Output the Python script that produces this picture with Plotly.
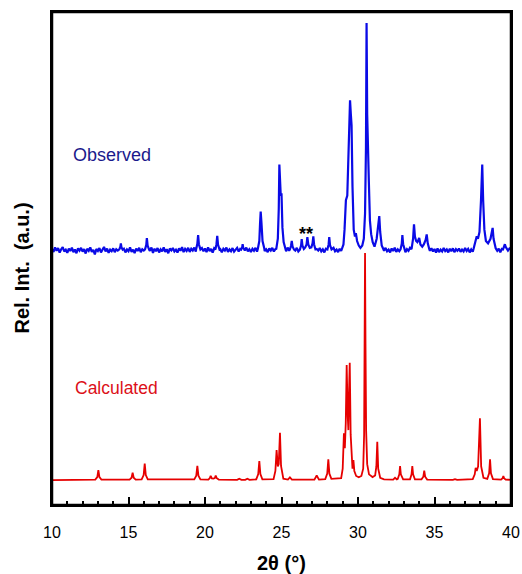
import numpy as np
import plotly.graph_objects as go

# ---------------- data ----------------
# Calculated pattern (relative intensity, max = 100)
calc_x = [10.00, 12.83, 12.96, 13.03, 13.10, 13.23,
          15.07, 15.20, 15.27, 15.34, 15.47,
          15.86, 15.99, 16.06, 16.13, 16.26,
          19.30, 19.43, 19.50, 19.57, 19.70,
          20.22, 20.31, 20.37, 20.45, 20.55, 20.64, 20.70, 20.77, 20.90,
          22.10, 22.24, 22.38, 22.63, 22.77, 22.91,
          23.35, 23.48, 23.55, 23.62, 23.75,
          24.48, 24.60, 24.68, 24.76, 24.82, 24.90, 24.97, 25.12,
          25.42, 25.55, 25.68,
          27.15, 27.30, 27.45,
          27.86, 27.99, 28.06, 28.13, 28.26,
          28.90, 29.00, 29.08, 29.14, 29.20, 29.26, 29.33, 29.37, 29.42, 29.46,
          29.52, 29.58, 29.64, 29.70, 29.76, 29.88, 30.05, 30.22, 30.34, 30.40,
          30.44, 30.46, 30.49, 30.53, 30.60, 30.72, 30.95, 31.12, 31.20, 31.26,
          31.32, 31.45, 31.70,
          32.30, 32.42, 32.54, 32.60, 32.70, 32.75, 32.80, 32.95,
          33.40, 33.50, 33.55, 33.60, 33.72,
          34.15, 34.27, 34.33, 34.39, 34.52,
          36.20, 36.34, 36.48,
          37.50, 37.63, 37.69, 37.76, 37.85, 37.97, 38.05, 38.20,
          38.45, 38.57, 38.63, 38.69, 38.82,
          39.35, 39.45, 39.50, 39.55, 39.65, 40.00]
calc_y = [0.0, 0.2, 1.3, 4.4, 1.3, 0.2,
          0.2, 1.0, 3.2, 1.0, 0.2,
          0.3, 2.2, 7.3, 2.2, 0.3,
          0.3, 1.9, 6.2, 1.9, 0.3,
          0.2, 0.8, 1.8, 0.7, 0.6, 0.9, 2.0, 0.8, 0.2,
          0.1, 0.6, 0.1, 0.1, 0.6, 0.1,
          0.3, 2.6, 8.4, 2.6, 0.3,
          0.4, 4.0, 13.2, 6.0, 7.0, 20.8, 6.2, 0.6,
          0.2, 1.2, 0.2,
          0.2, 2.0, 0.2,
          0.4, 2.8, 9.1, 2.8, 0.5,
          0.8, 5.0, 20.6, 14.0, 25.0, 50.7, 28.0, 22.0, 40.0, 51.7,
          20.0, 8.0, 5.0, 8.8, 4.0, 1.8, 1.2, 1.8, 5.0, 20.0,
          60.0, 100.0, 60.0, 22.0, 7.0, 2.5, 1.3, 2.0, 6.0, 16.9,
          5.0, 1.0, 0.3,
          0.2, 1.0, 0.3, 0.5, 2.5, 6.2, 2.5, 0.3,
          0.3, 2.5, 6.2, 2.5, 0.3,
          0.3, 1.5, 4.1, 1.5, 0.2,
          0.05, 0.4, 0.05,
          0.4, 2.5, 5.4, 4.0, 6.0, 27.2, 6.0, 1.0,
          0.5, 3.0, 9.1, 3.0, 0.4,
          0.2, 0.8, 1.8, 0.8, 0.2, 0.1]

# Observed pattern: baseline noise (every 0.1 deg from 10 to 40)
obs_noise = [
    0.5, -0.8, 1.2, -0.3, 0.9, -1.1, 0.4, 1.3, -0.6, 0.2,
    -1.2, 0.7, -0.4, 1.1, -0.9, 0.3, -1.4, 0.8, -0.2, 1.0,
    -0.7, 0.4, -1.5, 0.6, -0.3, 1.2, -0.8, 0.1, -1.9, 0.5,
    -0.4, 0.9, -1.0, 0.3, 1.4, -0.6, 0.7, -1.2, 0.2, -0.5,
    0.8, -0.9, 0.4, -0.2, 1.1, 1.0, -0.7, 0.6, -1.0, 0.3,
    -0.5, 1.2, -0.8, 0.2, -1.3, 0.7, -0.4, 1.0, -0.9, 0.4,
    -0.2, 0.8, 1.0, 0.5, -0.3, 1.1, -1.2, 0.6, -0.5, 0.9,
    -1.0, 0.3, -0.6, 1.2, -0.8, 0.4, -1.4, 0.7, -0.1, 0.9,
    -0.6, 0.2, -1.1, 0.8, -0.3, 1.3, -0.9, 0.5, -0.4, 1.0,
    -0.8, 0.6, -0.2, 1.1, -0.7, 0.4, -1.0, 0.3, 0.9, -0.5,
    0.7, -0.9, 1.2, -0.4, 0.5, -1.1, 0.8, -0.3, 1.0, -0.6,
    0.4, -1.0, 0.6, -0.2, 1.1, -0.8, 0.3, -0.5, 0.9, -0.7,
    0.2, 1.0, -0.6, 0.5, -0.9, 0.7, -0.2, 1.1, -0.5, 0.4,
    -0.8, 0.6, -0.3, 1.0, -0.7, 0.2, -1.0, 0.5, 0.9, -0.4,
    0.3, -0.9, 0.7, -0.2, 1.0, -0.6, 0.4, -0.8, 0.5, 0.9,
    -0.7, 0.3, 0.8, -0.5, 1.1, -0.3, 0.6, -0.9, 0.4, -0.2,
    1.0, -0.6, 0.5, -1.1, 0.7, -0.2, 0.9, -0.7, 0.3, 0.8,
    -0.4, 1.0, -0.8, 0.5, -0.2, 0.9, -0.6, 0.3, -1.0, 0.6,
    -0.3, 0.8, -0.7, 0.4, 1.0, -0.5, 0.2, -0.9, 0.6, -0.4,
    0.9, -0.3, 0.5, -0.8, 0.7, -0.5, 1.0, -0.6, 0.3, -1.2,
    0.4, -1.4, 0.6, -0.9, 0.3, -0.4, 0.8, -0.6, 0.5, -0.7,
    0.9, -0.4, 0.6, -1.0, 0.3, -0.6, 0.8, -0.3, 1.0, -0.5,
    0.2, -1.0, 0.7, -0.4, 1.1, -0.8, 0.3, -0.5, 0.9, -0.2,
    0.6, -0.9, 0.4, -0.3, 1.0, -0.7, 0.5, -0.6, 0.8, -0.4,
    0.3, -0.8, 0.9, -0.5, 0.6, -1.0, 0.4, -0.3, 0.8, -0.6,
    0.5, -1.1, 0.7, -0.9, 0.2, -0.6, 0.9, -0.4, 0.3, -1.0,
    0.6, -0.5, 0.8, -0.9, 0.4, -0.3, 0.7, -0.8, 0.2, -0.6,
    0.9, -0.4, 0.5, -1.0, 0.3, -0.7, 0.8, -0.2, 0.6, -0.5,
    0.4, -0.9, 0.7, -0.3, 0.5, -0.8, 0.9, -0.4, 0.2, -0.7,
    0.8, -0.3, 0.6, -1.0, 0.5, -0.6, 1.1, 0.9, -0.2, 0.7,
    0.3]

# Observed peaks (relative intensity above the baseline, max = 100)
obs_peak_groups = [
    ([14.40, 14.47, 14.50, 14.54, 14.62], [0.3, 1.5, 3.0, 1.2, 0.2]),
    ([16.08, 16.16, 16.20, 16.25, 16.35], [0.3, 2.2, 5.3, 2.0, 0.2]),
    ([19.42, 19.50, 19.55, 19.60, 19.70], [0.4, 2.8, 6.6, 2.6, 0.3]),
    ([20.68, 20.75, 20.80, 20.85, 20.95], [0.3, 2.6, 6.3, 2.4, 0.2]),
    ([22.36, 22.43, 22.46, 22.50, 22.58], [0.2, 1.2, 2.6, 1.0, 0.2]),
    ([23.45, 23.55, 23.60, 23.64, 23.69, 23.76, 23.88],
     [0.5, 4.0, 12.0, 17.0, 12.0, 4.0, 0.6]),
    ([24.66, 24.76, 24.82, 24.86, 24.90, 24.95, 25.00, 25.06, 25.14, 25.28],
     [0.6, 5.0, 18.0, 37.7, 30.0, 24.0, 25.0, 10.0, 3.5, 0.6]),
    ([25.55, 25.62, 25.67, 25.72, 25.82], [0.3, 1.8, 4.0, 1.6, 0.2]),
    ([26.20, 26.28, 26.32, 26.37, 26.46, 26.55, 26.64, 26.69, 26.75, 26.85,
      26.95, 27.03, 27.08, 27.13, 27.22],
     [0.2, 2.0, 4.8, 2.0, 0.5, 1.2, 2.5, 5.7, 2.5, 1.0,
      1.2, 3.0, 6.1, 2.5, 0.3]),
    ([28.00, 28.08, 28.12, 28.17, 28.27], [0.3, 2.5, 5.7, 2.2, 0.3]),
    ([28.95, 29.05, 29.12, 29.21, 29.30, 29.38, 29.44, 29.48, 29.53, 29.58,
      29.64, 29.72, 29.80, 29.86, 29.94, 30.05, 30.16, 30.28, 30.38, 30.46,
      30.52, 30.56, 30.60, 30.65, 30.71, 30.78, 30.86, 30.96, 31.08, 31.22,
      31.32, 31.39, 31.45, 31.55, 31.66],
     [0.6, 2.5, 9.0, 22.0, 24.0, 40.0, 60.0, 66.0, 60.0, 55.0,
      28.0, 9.0, 6.0, 7.5, 4.0, 2.0, 1.0, 2.0, 5.0, 16.0,
      45.0, 100.0, 60.0, 40.0, 30.0, 13.0, 7.0, 3.5, 1.5, 5.0,
      11.0, 15.0, 8.0, 2.0, 0.4]),
    ([32.78, 32.86, 32.90, 32.95, 33.05], [0.3, 2.8, 6.6, 2.6, 0.3]),
    ([33.50, 33.60, 33.66, 33.72, 33.80, 33.88, 34.00, 34.08, 34.20, 34.30,
      34.42, 34.49, 34.56, 34.66],
     [0.4, 5.0, 11.4, 6.0, 4.0, 3.5, 5.3, 2.5, 1.5, 2.5,
      4.5, 6.9, 3.0, 0.4]),
    ([37.55, 37.68, 37.76, 37.84, 37.94, 38.04, 38.12, 38.18, 38.26, 38.36,
      38.50, 38.66, 38.75, 38.80, 38.86, 38.98],
     [0.5, 3.5, 6.1, 5.0, 8.0, 22.0, 37.7, 22.0, 9.0, 4.0,
      3.0, 5.0, 8.0, 9.8, 5.0, 0.8]),
    ([39.48, 39.56, 39.60, 39.65, 39.75], [0.3, 1.5, 2.6, 1.4, 0.3]),
]
obs_offset = 101.3

x_ticks = [10, 15, 20, 25, 30, 35, 40]
x_range = [10, 40]
y_range = [-11, 206.2]

# ---------------- assemble observed trace ----------------
base_x = np.linspace(10, 40, len(obs_noise))
pts = []
for bx, by in zip(base_x, obs_noise):
    inside = any(gx[0] <= bx <= gx[-1] for gx, _ in obs_peak_groups)
    if not inside:
        pts.append((bx, by))
for gx, gy in obs_peak_groups:
    pts.extend(zip(gx, gy))
pts.sort(key=lambda p: p[0])
obs_x = [p[0] for p in pts]
obs_y = [p[1] + obs_offset for p in pts]

# ---------------- figure ----------------
fig = go.Figure()
fig.add_trace(go.Scatter(x=calc_x, y=calc_y, mode="lines",
                         line=dict(color="#e60000", width=1.8), hoverinfo="skip"))
fig.add_trace(go.Scatter(x=obs_x, y=obs_y, mode="lines",
                         line=dict(color="#0a0ae6", width=2.2), hoverinfo="skip"))

font_family = "Liberation Sans, Arial, sans-serif"

fig.update_layout(
    width=522, height=574, autosize=False,
    margin=dict(l=52, r=11, t=12, b=69),
    plot_bgcolor="white", paper_bgcolor="white",
    showlegend=False,
    font=dict(family=font_family, color="black"),
    xaxis=dict(
        range=x_range, tickvals=x_ticks, ticktext=[str(v) for v in x_ticks],
        automargin=False,
        showline=True, mirror=True, linecolor="black", linewidth=2,
        ticks="inside", ticklen=8, tickwidth=1.5, tickcolor="black",
        minor=dict(ticks="inside", ticklen=4, tickwidth=1.5, dtick=1,
                   tickcolor="black", showgrid=False),
        showgrid=False, zeroline=False,
        tickfont=dict(size=16, family=font_family, color="black"),
        ticklabelstandoff=12,
    ),
    yaxis=dict(
        range=y_range, automargin=False,
        showline=True, mirror=True, linecolor="black", linewidth=2,
        ticks="", showticklabels=False, showgrid=False, zeroline=False,
    ),
    shapes=[
        dict(type="rect", xref="paper", yref="paper", x0=0, y0=0, x1=1, y1=1,
             line=dict(color="black", width=2.5), layer="above"),
    ],
    annotations=[
        dict(text="<b>2θ&nbsp;(°)</b>", xref="paper", yref="paper", x=0.5, y=-0.118,
             xanchor="center", yanchor="middle", showarrow=False,
             font=dict(size=20, family=font_family, color="black")),
        dict(text="<b>Rel.&nbsp;Int.&nbsp;&nbsp;(a.u.)</b>", xref="paper", yref="paper",
             x=-0.065, y=0.48, textangle=-90, xanchor="center", yanchor="middle",
             showarrow=False, font=dict(size=20, family=font_family, color="black")),
        dict(text="Observed", x=13.95, y=143.2, xanchor="center", yanchor="middle",
             showarrow=False, font=dict(size=18, family=font_family, color="#1a1a8c")),
        dict(text="Calculated", x=10 + (116.5 - 52) / 15.3, y=-11 + (505 - 388) / 2.27,
             xanchor="center", yanchor="middle", showarrow=False,
             font=dict(size=17.5, family=font_family, color="#dc1018")),
        dict(text="<b>**</b>", x=26.6, y=108.5, xanchor="center", yanchor="middle",
             showarrow=False, font=dict(size=18, family=font_family, color="black")),
    ],
)

# remove the page's default body margin so the 522x574 figure fills the window,
# then redraw once so every frame edge is painted at the final position
post = (
    "document.body.style.margin='0';"
    "document.body.style.overflow='hidden';"
    "var gd=document.getElementById('{plot_id}');"
    "Plotly.relayout(gd, {'margin.r': 11.01});"
)
fig.write_html("out.html",
               config={"responsive": False, "displayModeBar": False},
               post_script=post)
